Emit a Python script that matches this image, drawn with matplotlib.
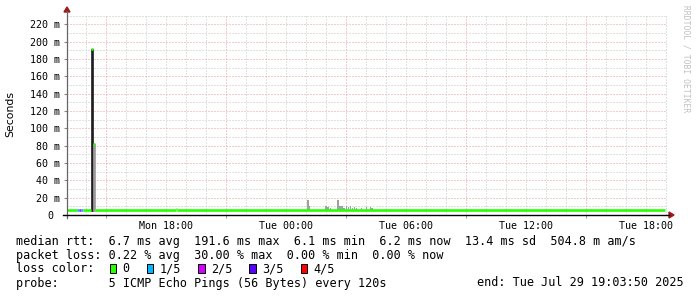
"""
Smokeping style latency graph (rrdtool look) rebuilt with matplotlib.
Times are hours since Mon 28 Jul 2025 00:00, latencies in ms.
"""

import matplotlib.pyplot as plt
from matplotlib.lines import Line2D
from matplotlib.patches import Polygon, Rectangle

W, H = 697, 297
MONO = "DejaVu Sans Mono"

# ---------------------------------------------------------------------------
# Data
# ---------------------------------------------------------------------------

T_START, T_END = 13.064, 43.064  # Mon 13:03:50 .. Tue 19:03:50

# median rtt, drawn as steps: start hour, end hour, value (ms), loss level
med_t0 = [13.064, 13.58, 13.66, 13.75, 13.85, 14.26, 14.36, 14.46, 18.50, 18.56]
med_t1 = [13.58, 13.66, 13.75, 13.85, 14.26, 14.36, 14.46, 18.50, 18.56, 42.96]
med_val = [6.2, 6.2, 6.2, 6.2, 6.2, 191.6, 82.0, 6.2, 7.4, 6.2]
med_loss = [0, 1, 2, 1, 0, 0, 0, 0, 0, 0]

# smoke (ping spread) columns: hour, top (ms)
smoke_t = [25.11, 25.19, 26.01, 26.11, 26.24, 26.61, 26.71, 26.81, 26.91, 27.04,
           27.14, 27.24, 27.34, 27.44, 27.54, 27.79, 28.04, 28.24, 28.31]
smoke_top = [17.5, 10, 10, 9, 8, 17.5, 10, 10, 8, 10,
             9, 10, 8, 9, 8, 8, 9, 9, 8]

# the big outlier at the start: hour, top (ms), shade
spike_t = [14.26, 14.36]
spike_top = [191.6, 82.0]
spike_col = ["#1e1e1e", "#9a9a9a"]

loss_labels = ["0", "1/5", "2/5", "3/5", "4/5"]
loss_colors = ["#26ff00", "#00b8ff", "#d400ff", "#5a00ff", "#ff0000"]

x_ticks = [18, 24, 30, 36, 42]
x_labels = ["Mon 18:00", "Tue 00:00", "Tue 06:00", "Tue 12:00", "Tue 18:00"]
x_major_grid = [15, 21, 27, 33, 39]
y_ticks = list(range(0, 221, 20))
y_labels = ["0 "] + [f"{v} m" for v in y_ticks[1:]]

legend_lines = [
    "median rtt:  6.7 ms avg  191.6 ms max  6.1 ms min  6.2 ms now  13.4 ms sd  504.8 m am/s",
    "packet loss: 0.22 % avg  30.00 % max  0.00 % min  0.00 % now",
    "loss color:",
    "probe:       5 ICMP Echo Pings (56 Bytes) every 120s",
]
end_text = "end: Tue Jul 29 19:03:50 2025"


# ---------------------------------------------------------------------------
# Helpers
# ---------------------------------------------------------------------------


def fx(x):
    return x / W


def fy(y):
    return 1 - y / H


# ---------------------------------------------------------------------------
# Plot
# ---------------------------------------------------------------------------

fig = plt.figure(figsize=(W / 100, H / 100), dpi=100)
fig.patch.set_facecolor("white")
ax = fig.add_axes([fx(67), fy(215), 600 / W, 200 / H])
ax.set_xlim(T_START, T_END)
ax.set_ylim(0, 230.7)
for s in ax.spines.values():
    s.set_visible(False)

# grid
dots = (0, (1, 2))
for h in range(14, 44):
    if h not in x_major_grid:
        ax.axvline(h, color="#c4c4c4", lw=0.72, ls=dots, zorder=0)
for h in x_major_grid:
    ax.axvline(h, color="#eb9a9a", lw=0.72, ls=dots, zorder=0)
for v in range(10, 231, 10):
    col = "#eb9a9a" if v % 20 == 0 else "#c4c4c4"
    ax.axhline(v, color=col, lw=0.72, ls=dots, zorder=0)

# smoke
ax.bar(smoke_t, [t - 6 for t in smoke_top], bottom=6, width=0.08,
       color="#a0a0a0", linewidth=0, zorder=2)
ax.bar(spike_t, [t - 5 for t in spike_top], bottom=5, width=0.1, align="edge",
       color=spike_col, edgecolor=spike_col, linewidth=0.5, zorder=2)

# median line coloured by loss
ax.hlines(med_val, med_t0, med_t1,
          colors=[loss_colors[i] for i in med_loss], lw=1.9, zorder=3)

# ticks
ax.set_xticks(x_ticks)
ax.set_xticklabels(x_labels, fontfamily=MONO, fontsize=7.2)
ax.set_xticks(x_major_grid, minor=True)
ax.tick_params(axis="x", which="major", length=0, pad=4.5)
ax.tick_params(axis="x", which="minor", length=2.5, color="#888888", direction="out")
ax.set_yticks(y_ticks)
ax.set_yticklabels(y_labels, fontfamily=MONO, fontsize=7.2)
ax.tick_params(axis="y", length=2, color="#888888", pad=3.2)

# axis lines with arrows
fig.add_artist(Line2D([fx(67), fx(67)], [fy(218), fy(11)], color="#666666", lw=0.9))
fig.add_artist(Line2D([fx(63), fx(669)], [fy(215), fy(215)], color="black", lw=1.0))
arrow = "#9b1b1b"
fig.add_artist(Polygon([[fx(64), fy(12)], [fx(70), fy(12)], [fx(67), fy(7)]],
                       closed=True, color=arrow, transform=fig.transFigure))
fig.add_artist(Polygon([[fx(669), fy(212)], [fx(669), fy(218)], [fx(674), fy(215)]],
                       closed=True, color=arrow, transform=fig.transFigure))

# axis title + watermark
fig.text(fx(10), fy(114), "Seconds", rotation=90, ha="center", va="center",
         fontsize=7.8, color="black")
fig.text(fx(686), fy(5), "RRDTOOL / TOBI OETIKER", rotation=270, ha="center",
         va="top", fontfamily=MONO, fontsize=5.8, color="#c0c0c0")

# legend block
LEG_FS = 8.48
line_y = [241, 255, 269, 283]
for txt, y in zip(legend_lines, line_y):
    fig.text(fx(16.5), fy(y), txt, ha="left", va="center", fontfamily=MONO,
             fontsize=LEG_FS, color="black")
fig.text(fx(477), fy(283), end_text, ha="left", va="center", fontfamily=MONO,
         fontsize=LEG_FS, color="black")

cursor = 109.5
for lbl, col in zip(loss_labels, loss_colors):
    fig.add_artist(Rectangle((fx(cursor), fy(273)), 6.7 / W, 9 / H, facecolor=col,
                             edgecolor="black", lw=0.7, transform=fig.transFigure))
    fig.text(fx(cursor + 13), fy(269), lbl, ha="left", va="center",
             fontfamily=MONO, fontsize=LEG_FS, color="black")
    cursor += 13 + len(lbl) * 7.1 + 17

fig.savefig("out.png", dpi=100)
